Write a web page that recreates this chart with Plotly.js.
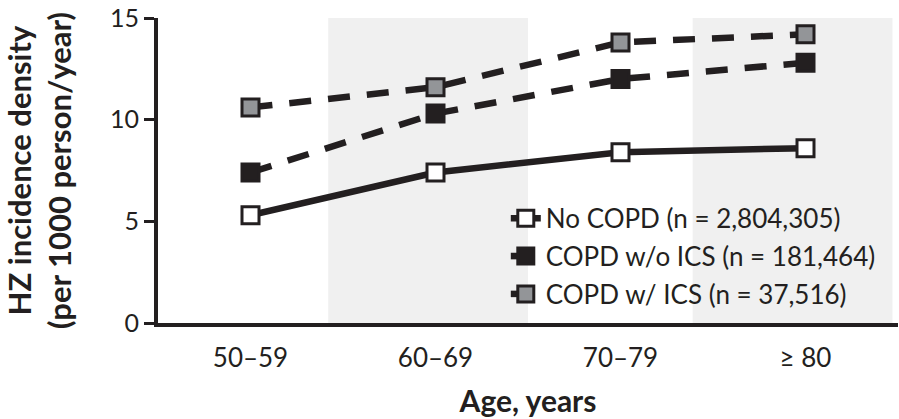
<!DOCTYPE html>
<html><head><meta charset="utf-8">
<script src="https://cdn.plot.ly/plotly-3.0.1.min.js"></script>
<style>body{margin:0;background:#fff}#c{width:899px;height:419px}</style>
</head><body><div id="c"></div>
<script>
const categories = ["50–59", "60–69", "70–79", "≥ 80"];
const noCopd = [5.3, 7.4, 8.4, 8.6];
const copdNoIcs = [7.4, 10.3, 12.0, 12.8];
const copdIcs = [10.6, 11.6, 13.8, 14.2];
const seriesNames = ["No COPD (n = 2,804,305)", "COPD w/o ICS (n = 181,464)", "COPD w/ ICS (n = 37,516)"];
const yTicks = [0, 5, 10, 15];

const ink = "#231f20";
const font = "Lato, 'Open Sans', sans-serif";
function trace(y, name, fill, dash, g) {
  return {
    x: [0, 1, 2, 3], y: y, name: name, type: "scatter", mode: "lines+markers",
    legendgroup: g,
    line: {color: ink, width: 6.5, dash: dash},
    marker: {symbol: "square", size: 17, color: fill, line: {color: ink, width: 3}}
  };
}
const data = [
  trace(noCopd, seriesNames[0], "#ffffff", "solid", "a"),
  trace(copdNoIcs, seriesNames[1], ink, "22px,17px", "b"),
  trace(copdIcs, seriesNames[2], "#939598", "22px,17px", "c")
];
const layout = {
  width: 899, height: 419,
  margin: {l: 158, r: 1, t: 18, b: 96},
  paper_bgcolor: "#fff", plot_bgcolor: "#fff",
  font: {family: font, color: ink, size: 25},
  showlegend: true,
  legend: {x: 0.47, xanchor: "left", y: 0.42, yanchor: "top", traceorder: "grouped",
    tracegroupgap: 1, bgcolor: "rgba(0,0,0,0)", font: {size: 26, color: ink}},
  xaxis: {
    range: [-0.5, 3.5], tickvals: [0, 1, 2, 3], ticktext: categories,
    showline: true, linecolor: ink, linewidth: 4, ticks: "", showgrid: false, zeroline: false,
    tickfont: {size: 26}, ticklabelstandoff: 9,
    title: {text: "<b>Age, years</b>", font: {size: 30}, standoff: 20}
  },
  yaxis: {
    range: [0, 15], tickvals: yTicks, showline: true, linecolor: ink, linewidth: 4,
    ticks: "outside", ticklen: 10, tickwidth: 3, tickcolor: ink, showgrid: false, zeroline: false,
    tickfont: {size: 25}, automargin: false,
    title: {text: "<b>HZ incidence density<br>(per 1000 person/year)</b>", font: {size: 31}, standoff: 30}
  },
  shapes: [
    {type: "rect", xref: "x", yref: "y", x0: 0.42, x1: 1.5, y0: 0, y1: 15, fillcolor: "#f0f0f0", line: {width: 0}, layer: "below"},
    {type: "rect", xref: "x", yref: "y", x0: 2.39, x1: 3.47, y0: 0, y1: 15, fillcolor: "#f0f0f0", line: {width: 0}, layer: "below"}
  ]
};
Plotly.newPlot("c", data, layout, {displayModeBar: false});
</script></body></html>
